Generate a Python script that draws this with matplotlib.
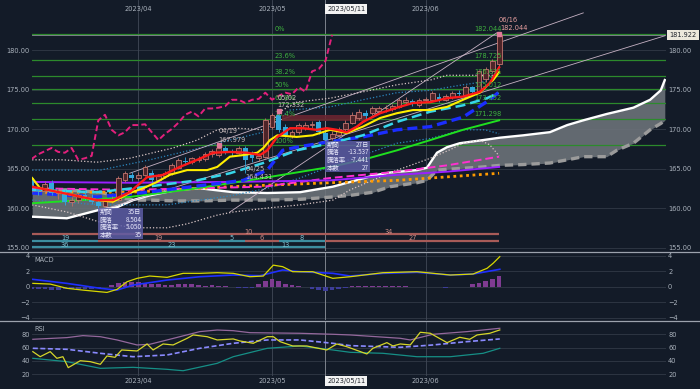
import numpy as np
import matplotlib
matplotlib.use("Agg")
import matplotlib.pyplot as plt
import matplotlib.transforms as mtrans
from matplotlib.patches import Rectangle

plt.rcParams['font.family'] = ['DejaVu Sans']
CJK = ['Noto Sans CJK JP', 'DejaVu Sans']

# ---------------- data (bar index 0 = 2023/03/10, 70 = 2023/06/16) ----------------
opens = [163.8, 162.6, 162.2, 163.2, 161.9, 162.0, 160.8, 161.0, 161.6, 161.3,
         160.8, 160.3, 160.9, 161.0, 163.5, 164.2, 163.8, 164.2, 164.4, 163.6,
         164.0, 164.4, 165.1, 166.0, 165.8, 166.1, 166.2, 166.8, 166.7, 167.6,
         167.1, 167.0, 167.6, 166.9, 166.3, 166.5, 170.3, 171.8, 170.3, 169.1,
         169.6, 170.1, 170.5, 170.9, 169.5, 168.8, 169.2, 170.0, 170.8, 171.4,
         172.0, 172.0, 172.3, 172.6, 172.5, 172.8, 173.4, 173.5, 173.0, 173.7,
         173.7, 174.0, 173.7, 174.0, 174.5, 174.3, 175.3, 174.7, 176.3, 177.4,
         178.2]
highs = [164.2, 163.0, 163.4, 163.5, 162.5, 162.3, 161.4, 162.0, 162.2, 161.8,
         161.2, 161.2, 161.5, 164.0, 164.7, 164.6, 164.6, 165.5, 164.8, 164.3,
         164.7, 165.7, 166.3, 166.4, 166.5, 166.6, 167.1, 167.5, 167.979, 167.9,
         167.5, 167.9, 167.8, 167.2, 167.0, 171.4, 172.0, 172.332, 170.6, 169.9,
         170.8, 170.9, 171.0, 171.2, 169.8, 169.7, 170.3, 171.1, 172.1, 172.5,
         172.4, 172.9, 172.9, 173.0, 173.2, 173.9, 174.0, 173.8, 173.9, 174.1,
         174.8, 174.5, 174.4, 174.8, 174.9, 175.6, 175.5, 177.5, 177.9, 178.9,
         182.044]
lows = [162.3, 161.6, 161.9, 161.6, 161.2, 160.4, 160.3, 160.6, 161.0, 160.5,
        160.003, 160.1, 160.6, 160.9, 163.3, 163.4, 163.5, 164.0, 163.2, 163.4,
        163.8, 164.2, 165.0, 165.5, 165.6, 165.8, 166.0, 166.5, 166.5, 166.9,
        166.6, 166.8, 164.431, 165.8, 165.9, 166.3, 170.0, 169.6, 169.0, 168.9,
        169.4, 169.9, 170.1, 169.4, 168.507, 168.6, 169.0, 169.8, 170.6, 171.2,
        171.3, 171.8, 172.0, 172.2, 172.3, 172.6, 173.1, 172.9, 172.8, 173.4,
        173.5, 173.4, 173.5, 173.8, 174.1, 174.1, 174.5, 174.5, 176.0, 177.1,
        177.9]
closes = [162.6, 162.2, 163.1, 161.9, 162.1, 160.8, 161.0, 161.6, 161.3, 160.8,
          160.2, 160.9, 161.1, 163.8, 164.4, 163.8, 164.2, 165.2, 163.6, 164.0,
          164.4, 165.4, 166.1, 165.8, 166.3, 166.2, 166.8, 167.2, 167.6, 167.1,
          167.0, 167.6, 166.1, 166.3, 166.6, 171.1, 171.8, 169.9, 169.2, 169.6,
          170.5, 170.5, 170.6, 169.6, 168.6, 169.4, 170.0, 170.8, 171.8, 172.2,
          171.6, 172.6, 172.6, 172.7, 172.9, 173.7, 173.7, 173.3, 173.7, 173.8,
          174.6, 173.7, 174.2, 174.6, 174.4, 175.3, 174.7, 177.3, 177.6, 178.6,
          181.922]

month_pos = [16, 36, 59]
month_labels = ["2023/04", "2023/05", "2023/06"]
cursor_pos = 44
cursor_label = "2023/05/11"

# moving averages / ichimoku lines (bar index, price)
red_x = [0.1, 4.7, 9.8, 12.2, 14.7, 17.3, 19.7, 22.2, 24.8, 27.2, 29.7, 32.3, 34.2, 35.3, 36.8, 38.7,
         40.6, 42.7, 44.2, 45.7, 47.2, 48.7, 49.6, 52.2, 54.7, 57.1, 59.7, 62.2, 64.6, 67.1, 68.6, 70.0]
red_y = [162.7, 161.9, 161.0, 161.0, 162.0, 163.9, 164.2, 165.2, 166.1, 167.0, 167.1, 167.0, 166.7, 167.3, 169.0, 170.1,
         170.1, 169.9, 170.1, 169.9, 169.6, 170.3, 170.9, 172.0, 172.7, 173.3, 173.4, 173.9, 174.1, 174.7, 175.8, 177.8]
yellow_x = [0.1, 1.3, 9.8, 12.2, 14.7, 16.7, 18.8, 20.7, 23.3, 26.3, 27.8, 29.7, 31.7, 33.8, 34.7, 35.7,
            36.8, 39.7, 42.1, 44.7, 47.2, 49.6, 52.2, 54.7, 57.1, 59.7, 62.2, 64.6, 67.1, 69.1, 70.0]
yellow_y = [163.8, 162.5, 161.0, 160.8, 161.9, 162.5, 163.3, 164.2, 164.8, 164.8, 165.2, 166.5, 166.7, 167.0, 167.6, 168.6,
            169.2, 169.0, 169.2, 169.9, 169.5, 170.3, 171.4, 172.0, 172.4, 172.4, 172.8, 173.7, 174.6, 176.2, 177.2]
cyan_x = [0.1, 9.8, 17.3, 24.8, 29.7, 34.7, 39.7, 44.7, 49.6, 54.7, 59.7, 64.6, 68.2, 69.9]
cyan_y = [162.3, 162.0, 162.7, 163.5, 164.4, 165.7, 167.3, 168.2, 169.2, 170.9, 172.2, 173.0, 173.9, 174.6]
blue_x = [0.1, 9.8, 17.3, 31.7, 35.3, 37.6, 39.7, 44.7, 49.6, 54.7, 59.7, 64.6, 68.6, 70.0]
blue_y = [161.9, 161.4, 162.0, 163.5, 164.8, 167.3, 167.7, 168.4, 169.0, 169.9, 170.3, 171.5, 173.7, 174.7]
green_x = [0.1, 14.7, 24.8, 34.7, 44.7, 49.6, 54.7, 59.7, 64.6, 70.0]
green_y = [160.6, 161.4, 162.5, 163.8, 165.2, 166.1, 167.3, 168.6, 169.9, 171.1]
purple_x = [0.1, 14.7, 29.7, 44.7, 54.7, 62.2, 70.0]
purple_y = [163.3, 163.2, 163.3, 163.5, 164.2, 164.6, 165.2]
magenta_x = [0.1, 14.7, 24.8, 34.7, 44.7, 54.7, 62.2, 70.0]
magenta_y = [162.5, 162.3, 162.5, 162.7, 163.8, 164.6, 165.4, 166.5]
orange_x = [0.1, 14.7, 29.7, 44.7, 54.7, 70.0]
orange_y = [162.0, 162.0, 162.7, 163.2, 163.5, 164.4]

cloud_x = [0.1, 5.3, 10.3, 12.8, 15.2, 17.7, 21.8, 25.2, 30.2, 35.3, 40.2, 45.1, 47.7, 51.1, 53.7, 57.7,
           59.2, 60.7, 62.2, 64.1, 67.6, 70.1, 73.6, 77.6, 80.2, 82.6, 86.1, 87.6, 90.1, 92.6, 94.2, 94.8]
span_a = [158.9, 158.7, 159.8, 160.1, 161.0, 161.6, 162.3, 162.5, 162.0, 161.9, 162.0, 162.7, 163.3, 164.1, 164.5, 164.8,
          165.1, 167.0, 167.7, 168.2, 168.6, 168.9, 169.2, 169.6, 170.5, 171.1, 171.9, 172.2, 172.7, 173.7, 174.9, 176.2]
span_b = [162.3, 162.3, 162.0, 161.5, 161.0, 161.0, 160.9, 160.9, 161.0, 161.0, 161.1, 161.4, 161.6, 162.0, 162.7, 163.2,
          163.5, 164.8, 164.9, 165.0, 165.2, 165.4, 165.5, 165.7, 166.1, 166.5, 166.5, 167.3, 168.2, 169.9, 170.7, 171.1]

bb_up_x = [0.1, 4.7, 9.8, 14.7, 21.2, 24.8, 27.8, 30.8, 34.7, 37.6, 39.7, 44.7, 49.6, 54.7, 59.7, 62.2, 69.7]
bb_up_y = [166.1, 166.1, 165.8, 166.3, 167.6, 168.6, 169.9, 170.1, 169.9, 172.4, 173.4, 173.9, 174.7, 175.6, 176.2, 176.8, 176.8]
bb_lo_x = [0.1, 5.3, 10.3, 15.2, 20.3, 23.3, 27.8, 30.2, 35.3, 40.2, 45.1, 47.7, 54.1, 59.7, 62.7, 64.6, 67.1, 68.6, 70.0]
bb_lo_y = [160.4, 159.5, 158.2, 157.5, 157.5, 158.0, 159.1, 159.5, 160.0, 160.4, 161.0, 162.3, 164.6, 166.3, 167.4, 168.2, 168.6, 168.0, 166.6]
sig1_up_x = [0.1, 10.3, 17.7, 25.7, 29.7, 34.7, 38.7, 44.7, 49.6, 54.7, 59.7, 64.6, 67.9, 69.7]
sig1_up_y = [164.8, 164.8, 166.1, 167.7, 168.6, 169.6, 172.4, 172.8, 173.7, 174.6, 174.9, 175.6, 176.0, 177.0]
sig1_lo_x = [0.1, 10.3, 20.3, 30.2, 35.3, 40.2, 45.1, 49.6, 54.7, 59.7, 64.6, 67.9, 70.0]
sig1_lo_y = [161.0, 160.4, 160.4, 161.6, 162.5, 163.8, 165.4, 166.7, 168.2, 168.8, 169.9, 169.9, 169.4]

trend_lines = [((14.7, 164.4), (82.6, 184.7)),
               ((10.3, 159.7), (94.8, 181.8)),
               ((29.7, 159.5), (69.7, 182.2))]

fib_high = 182.044
fib_low = 167.979
fib_levels = [0.0, 0.236, 0.382, 0.5, 0.618, 0.764, 1.0]
fib_names = ["0%", "23.6%", "38.2%", "50%", "61.8%", "76.4%", "100%"]
last_price = 181.922

# count bars under the price chart: (start, end, label, row, colour key)
count_bars = [(-10, 28, "", 0, "b"), (28, 37, "10", 0, "b"), (37, 70, "34", 0, "b"),
              (-8, 10, "19", 1, "t"), (10, 28, "19", 1, "b"), (28, 32, "5", 1, "t"),
              (32, 37, "6", 1, "b"), (37, 44, "8", 1, "t"), (44, 70, "27", 1, "b"),
              (-25, 10, "36", 2, "t"), (10, 32, "23", 2, "t"), (32, 44, "13", 2, "t")]

# MACD
macd_hist = [-0.30, -0.35, -0.30, -0.45, -0.40, -0.35,
             -0.30, -0.25, -0.30, -0.35, -0.20, -0.05,
             0.25, 0.45, 0.60, 0.65, 0.60, 0.50, 0.40,
             0.30, 0.25, 0.20, 0.30, 0.35, 0.30, 0.20, 0.15, 0.20,
             0.10, 0.05, -0.05, -0.10, -0.15, -0.10,
             0.35, 0.70, 1.00, 0.80, 0.40,
             0.20, 0.10, 0.00,
             -0.25, -0.40, -0.50, -0.45, -0.30, -0.15,
             0.05, 0.08, 0.10, 0.10, 0.08, 0.05, 0.05, 0.08, 0.05, 0.03, 0.02, 0.0,
             -0.05, -0.08, -0.10, -0.08, -0.05, 0.0,
             0.30, 0.50, 0.80, 1.05, 1.40]
macd_x = [0.2, 2.8, 5.3, 7.7, 10.3, 11.3, 12.8, 14.3, 15.8, 17.7, 20.3, 22.7, 25.2, 27.8, 30.2, 32.7,
          34.7, 36.2, 37.6, 39.1, 42.1, 45.1, 47.7, 52.6, 57.7, 62.7, 66.1, 68.2, 69.1, 70.1]
macd_y = [0.44, 0.35, -0.2, -0.43, -0.65, -0.73, -0.34, 0.65, 1.09, 1.39, 1.22, 1.74, 1.74, 1.82, 1.74, 1.30,
          1.39, 2.80, 2.60, 1.95, 1.95, 1.09, 1.30, 1.82, 1.95, 1.52, 1.65, 2.39, 3.04, 3.90]
signal_x = [0.2, 5.3, 10.3, 12.8, 15.2, 20.3, 25.2, 30.2, 34.2, 37.6, 40.2, 45.1, 47.7, 52.6, 57.7, 62.7, 66.1, 70.1]
signal_y = [0.96, 0.44, -0.2, -0.43, 0.22, 0.87, 1.30, 1.52, 1.43, 2.17, 1.95, 1.74, 1.39, 1.74, 1.87, 1.52, 1.65, 2.26]

# RSI panel
rsi_up_x = [0.2, 5.3, 7.7, 10.3, 12.8, 15.8, 17.7, 20.3, 25.2, 27.8, 30.2, 32.7, 40.2, 45.1, 47.7, 55.2, 56.7, 60.1, 65.2, 70.1]
rsi_up_y = [72.5, 75, 78, 76.4, 71.5, 64, 65, 71.5, 84, 86.4, 85.4, 82.4, 81.5, 80, 79, 74, 71.5, 80, 84, 89]
rsi_mid_x = [0.2, 5.3, 10.3, 15.2, 20.3, 25.2, 30.2, 35.3, 40.2, 45.1, 47.7, 55.2, 60.1, 65.2, 70.1]
rsi_mid_y = [59, 57.5, 51.5, 46.4, 49, 59, 66.5, 71.5, 71.5, 66.5, 63, 60.5, 64, 69, 73]
rsi_lo_x = [0.2, 5.3, 10.3, 15.2, 20.3, 22.7, 27.8, 30.2, 35.3, 40.2, 45.1, 47.7, 52.6, 57.7, 62.7, 67.6, 70.1]
rsi_lo_y = [44, 39, 29, 30.5, 27.5, 25.4, 36.5, 46.4, 59, 62.5, 56.5, 53, 51.5, 46.4, 46.4, 51.5, 59]
rsi_x = [0.2, 1.3, 2.8, 3.8, 4.7, 5.5, 7.3, 8.8, 10.3, 11.3, 12.5, 13.5, 15.8, 17.3, 18.2, 19.7, 21.2, 23.3,
         24.2, 26.3, 27.8, 30.2, 31.2, 33.2, 35.3, 36.2, 37.2, 39.1, 41.2, 44.2, 45.7, 47.2, 50.2, 51.1,
         53.2, 54.1, 55.2, 56.7, 58.2, 59.7, 62.2, 64.1, 65.6, 66.7, 68.6, 70.1]
rsi_y = [54, 46.4, 54, 44, 46.4, 30, 40.4, 39, 35, 47.5, 45.5, 56.5, 55, 65.5, 56.5, 65.5, 64, 74,
         79, 76.4, 71.5, 73, 70, 66.5, 76.4, 76.4, 69, 62.5, 62.5, 56.5, 65.5, 61.4, 50.5, 59,
         67.5, 62.5, 65.5, 64, 83, 81.5, 67.5, 75.5, 72.5, 79, 81.5, 86.5]

# ---------------- drawing ----------------
BG = '#131b28'
GRID = '#313947'
TXT = '#aab2bc'
W, H = 700, 389

fig = plt.figure(figsize=(7, 3.89), dpi=100, facecolor=BG)


def px_axes(x0, y0, x1, y1):
    a = fig.add_axes([x0 / W, 1 - y1 / H, (x1 - x0) / W, (y1 - y0) / H])
    a.set_facecolor(BG)
    for s in a.spines.values():
        s.set_visible(False)
    a.set_xlim(0.075, 94.98)
    a.set_xticks([])
    a.tick_params(axis='y', length=0, labelsize=4.8, labelcolor=TXT,
                  labelleft=True, labelright=True, pad=1.5)
    return a


ax = px_axes(32, 0, 666, 251)
axm = px_axes(32, 252, 666, 320)
axr = px_axes(32, 322, 666, 376)

ax.set_ylim(154.56, 186.33)
ax.set_yticks([155, 160, 165, 170, 175, 180])
ax.set_yticklabels([f"{v:.2f}" for v in [155, 160, 165, 170, 175, 180]])
axm.set_ylim(-4.3, 4.5)
axm.set_yticks([-4, -2, 0, 2, 4])
axr.set_ylim(17.5, 98.4)
axr.set_yticks([20, 40, 60, 80])

for a in (ax, axm, axr):
    for t in a.get_yticks():
        a.axhline(t, color=GRID, lw=0.6, zorder=0)
    for m in month_pos:
        a.axvline(m, color='#414957', lw=0.6, zorder=0)
    a.axvline(cursor_pos, color='#7d838d', lw=0.7, zorder=1)

idx = np.arange(len(closes))
o = np.array(opens); c = np.array(closes); hi = np.array(highs); lo = np.array(lows)

# cloud
ax.fill_between(cloud_x, span_a, span_b, color='#6c7279', alpha=0.9, lw=0, zorder=1)
ax.plot(cloud_x, span_b, color='#9b9b9b', lw=2.4, dashes=(2.5, 1.5), zorder=2)
ax.plot(cloud_x, span_a, color='white', lw=1.7, zorder=2)

# fibonacci
fib_vals = [fib_high - lv * (fib_high - fib_low) for lv in fib_levels]
for v, name in zip(fib_vals, fib_names):
    ax.axhline(v, color='#2c8a2c', lw=0.9, zorder=1)
    ax.text(36.4, v + 0.3, name, color='#3fb23f', fontsize=4.8, zorder=6)
    if name != "100%":
        ax.text(66.3, v + 0.3, f"{v:.3f}", color='#3fb23f', fontsize=4.8, zorder=6)
ax.axhline(last_price, color='#8c9096', lw=0.6, zorder=1)

# bands and trend lines
ax.plot(bb_up_x, bb_up_y, color='#d9c6c6', lw=0.9, dashes=(1, 1.6), zorder=2)
ax.plot(bb_lo_x, bb_lo_y, color='#d9c6c6', lw=0.9, dashes=(1, 1.6), zorder=2)
ax.plot(sig1_up_x, sig1_up_y, color='#2b86bd', lw=0.9, dashes=(1, 1.6), zorder=2)
ax.plot(sig1_lo_x, sig1_lo_y, color='#2b86bd', lw=0.9, dashes=(1, 1.6), zorder=2)
for (x0, y0), (x1, y1) in trend_lines:
    ax.plot([x0, x1], [y0, y1], color='#c7b2c4', lw=0.6, zorder=2)

# zone rectangle
ax.add_patch(Rectangle((37.5, 171.0), 12.5, 0.75, fc='#6a2430', ec='none', alpha=0.9, zorder=2))

# moving averages
ax.plot(orange_x, orange_y, color='#ff9a00', lw=2.0, dashes=(1, 1.3), zorder=3)
ax.plot(magenta_x, magenta_y, color='#ff2fd0', lw=1.4, dashes=(4, 2), zorder=3)
ax.plot(purple_x, purple_y, color='#9a1fff', lw=1.4, zorder=3)
ax.plot(green_x, green_y, color='#1fe01f', lw=1.4, zorder=3)
ax.plot(blue_x, blue_y, color='#1b2dff', lw=2.4, dashes=(3, 1.5), zorder=3)
ax.plot(cyan_x, cyan_y, color='#36d5ea', lw=1.8, dashes=(4, 2), zorder=3)

# candles
up = c >= o
ax.vlines(idx[up], lo[up], hi[up], color='#c07068', lw=0.6, zorder=4)
ax.vlines(idx[~up], lo[~up], hi[~up], color='#33a9dd', lw=0.6, zorder=4)
body_lo = np.minimum(o, c)
body_h = np.maximum(np.abs(c - o), 0.08)
ax.bar(idx[up], body_h[up], bottom=body_lo[up], width=0.72, facecolor='#4e2429',
       edgecolor='#c47670', lw=0.6, zorder=4)
ax.bar(idx[~up], body_h[~up], bottom=body_lo[~up], width=0.72, color='#33a9dd', lw=0, zorder=4)

ax.plot(yellow_x, yellow_y, color='#ffee00', lw=1.5, zorder=5)
ax.plot(red_x, red_y, color='#ff1a1a', lw=1.7, zorder=5)

# lagging span (close shifted 25 bars back)
ax.plot(idx[25:] - 25, c[25:], color='#e3207c', lw=1.4, dashes=(3, 1.6), zorder=5)

# swing labels
ax.plot([28, 37, 70], [167.979, 172.332, 182.044], 's', ms=2.5, color='#e07a9a', zorder=6)
swing_txt = [(28.0, 169.7, "04/19"), (28.0, 168.6, "167.979"),
             (32.0, 164.9, "04/25"), (32.0, 163.9, "164.431"),
             (36.8, 173.9, "05/02"), (36.8, 173.1, "172.332")]
for sx, sy, s in swing_txt:
    ax.text(sx, sy, s, color='#c9bcbc', fontsize=4.8, va='center', zorder=6)
ax.text(70.0, 183.8, "06/16", color='#e8a0a0', fontsize=4.8, va='center', zorder=6)
ax.text(70.2, 182.8, "182.044", color='#e8a0a0', fontsize=4.8, va='center', zorder=6)

# measurement boxes
boxes = [(10, 160.003, ["期間", "騰落", "騰落率", "本数"], ["35日", "8.504", "5.050", "35"]),
         (44, 168.507, ["期間", "騰落", "騰落率", "本数"], ["27日", "-13.537", "-7.441", "27"])]
for bx, by, keys, vals in boxes:
    ax.add_patch(Rectangle((bx, by - 3.9), 6.7, 3.9, fc='#5d5da6', ec='none', alpha=0.85, zorder=7))
    for k, (kk, vv) in enumerate(zip(keys, vals)):
        yy = by - 0.5 - k * 0.97
        ax.text(bx + 0.2, yy, kk, color='#e6e6fa', fontsize=4.6, va='center', family=CJK, zorder=8)
        ax.text(bx + 6.5, yy, vv, color='#e6e6fa', fontsize=4.6, va='center', ha='right',
                family=CJK, zorder=8)

# count bars
tb = mtrans.blended_transform_factory(ax.transData, ax.transAxes)
row_y = [0.066, 0.040, 0.014]
bar_col = {"b": '#a85b58', "t": '#3d8ea0'}
lab_col = {"b": '#cf8a84', "t": '#7cc0d0'}
for s, e, lab, row, key in count_bars:
    ax.plot([s, e], [row_y[row]] * 2, color=bar_col[key], lw=1.6, transform=tb, zorder=6,
            solid_capstyle='butt', clip_on=True)
    if lab:
        xm = (max(s, 0.075) + e) / 2
        ax.text(xm, row_y[row] + 0.011, lab, color=lab_col[key], fontsize=4.8, ha='center',
                va='center', transform=tb, zorder=6)

# MACD panel
hist = np.array(macd_hist)
axm.bar(idx, hist, width=0.7, color=np.where(hist >= 0, '#7f3b92', '#3d3d98'), zorder=2)
axm.plot(signal_x, signal_y, color='#1f2fff', lw=1.2, zorder=3)
axm.plot(macd_x, macd_y, color='#d8d800', lw=0.9, zorder=3)
axm.text(0.004, 0.93, "MACD", color=TXT, fontsize=4.8, va='top', transform=axm.transAxes)

# RSI panel
axr.plot(rsi_up_x, rsi_up_y, color='#94689c', lw=0.9, zorder=2)
axr.plot(rsi_lo_x, rsi_lo_y, color='#168f86', lw=0.9, zorder=2)
axr.plot(rsi_mid_x, rsi_mid_y, color='#8a8aff', lw=1.2, dashes=(3, 1.5), zorder=2)
axr.plot(rsi_x, rsi_y, color='#d6d62a', lw=0.9, zorder=3)
axr.text(0.004, 0.93, "RSI", color=TXT, fontsize=4.8, va='top', transform=axr.transAxes)

# panel separators
for ypx in (251.5, 321):
    fig.add_artist(plt.Line2D([0, 1], [1 - ypx / H] * 2, color='#9ca2ad', lw=0.9,
                              transform=fig.transFigure))

# date labels top and bottom
tt = mtrans.blended_transform_factory(ax.transData, fig.transFigure)
for m, lab in zip(month_pos, month_labels):
    for ypx in (9, 381):
        fig.text(m, 1 - ypx / H, lab, transform=tt, color=TXT, fontsize=4.8,
                 ha='center', va='center')
for ypx in (9, 381):
    fig.text(cursor_pos + 3.1, 1 - ypx / H, cursor_label, transform=tt, color='#20242c',
             fontsize=4.8, ha='center', va='center',
             bbox=dict(boxstyle='square,pad=0.25', fc='#f2f2f2', ec='none'))

# last price box on the right
tp = mtrans.blended_transform_factory(fig.transFigure, ax.transData)
fig.text(683 / W, last_price, f"{last_price:.3f}", transform=tp, color='#20242c', fontsize=4.8,
         ha='center', va='center', bbox=dict(boxstyle='square,pad=0.3', fc='#ece8dc', ec='none'))

fig.savefig("out.png", dpi=100, facecolor=BG)
